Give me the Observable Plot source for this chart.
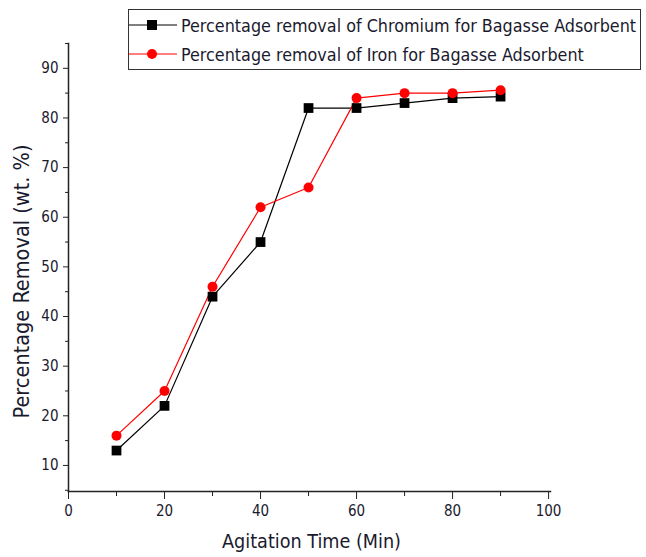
<!DOCTYPE html>
<html><head><meta charset="utf-8">
<script src="https://cdn.jsdelivr.net/npm/d3@7"></script>
<script src="https://cdn.jsdelivr.net/npm/@observablehq/plot@0.6"></script>
<style>
body{margin:0;background:#fff;}
#wrap{position:relative;width:646px;height:557px;font-family:"DejaVu Sans Condensed","Liberation Sans Narrow","Liberation Sans",Arial,sans-serif;}
#legend{position:absolute;left:128px;top:9px;width:511px;height:59px;border:1.5px solid #333;box-sizing:content-box;}
.row{position:absolute;left:0;height:20px;display:flex;align-items:center;font-size:17.8px;color:#1a1a2e;white-space:nowrap;}
.row svg{margin-right:4px;flex:none;}
</style></head>
<body><div id="wrap"><div id="chart"></div>
<div id="legend">
<div class="row" style="top:5px"><svg width="48" height="20"><line x1="0" y1="10" x2="48" y2="10" stroke="#000" stroke-width="1.2"/><rect x="18" y="5" width="10" height="10" fill="#000"/></svg><span>Percentage removal of Chromium for Bagasse Adsorbent</span></div>
<div class="row" style="top:34px"><svg width="48" height="20"><line x1="0" y1="10" x2="48" y2="10" stroke="#f00" stroke-width="1.2"/><circle cx="23" cy="10" r="5" fill="#f00"/></svg><span>Percentage removal of Iron for Bagasse Adsorbent</span></div>
</div></div>
<script>
const times = [10, 20, 30, 40, 50, 60, 70, 80, 90];
const chromium = [13, 22, 44, 55, 82, 82, 83, 84, 84.3];
const iron = [16, 25, 46, 62, 66, 84, 85, 85, 85.6];
const xTicks = [0, 20, 40, 60, 80, 100];
const xMinor = [10, 30, 50, 70, 90];
const yTicks = [10, 20, 30, 40, 50, 60, 70, 80, 90];
const yMinor = [5, 15, 25, 35, 45, 55, 65, 75, 85, 95];

const cr = times.map((t, i) => ({t, v: chromium[i]}));
const fe = times.map((t, i) => ({t, v: iron[i]}));
const font = '"DejaVu Sans Condensed","Liberation Sans Narrow","Liberation Sans",Arial,sans-serif';

const chart = Plot.plot({
  width: 646, height: 557,
  marginLeft: 68, marginRight: 96, marginTop: 43, marginBottom: 66,
  style: {fontFamily: font, fontSize: "15px", color: "#1a1a2e", background: "#fff"},
  x: {domain: [0, 100.4]},
  y: {domain: [4.75, 95]},
  marks: [
    Plot.axisX({ticks: xTicks, tickSize: 8, tickPadding: 6, label: null, fontSize: 15, stroke: "#222"}),
    Plot.axisX({ticks: xMinor, tickSize: 5, text: null, label: null, stroke: "#222"}),
    Plot.axisY({ticks: yTicks, tickSize: 5, tickPadding: 5, label: null, fontSize: 15, stroke: "#222"}),
    Plot.axisY({ticks: yMinor, tickSize: 3, text: null, label: null, stroke: "#222"}),
    Plot.frame({anchor: "left", stroke: "#222", strokeWidth: 1.5}),
    Plot.frame({anchor: "bottom", stroke: "#222", strokeWidth: 1.5}),
    Plot.line(cr, {x: "t", y: "v", stroke: "#000", strokeWidth: 1.2}),
    Plot.line(fe, {x: "t", y: "v", stroke: "#f00", strokeWidth: 1.2}),
    Plot.dot(cr, {x: "t", y: "v", symbol: "square", r: 5.5, fill: "#000"}),
    Plot.dot(fe, {x: "t", y: "v", symbol: "circle", r: 5, fill: "#f00"}),
    Plot.text(["Agitation Time (Min)"], {frameAnchor: "bottom", dx: 2, dy: 56, fontSize: 19.6, fill: "#1a1a2e"}),
    Plot.text(["Percentage Removal (wt. %)"], {frameAnchor: "left", textAnchor: "middle", dx: -46, dy: 14, rotate: -90, fontSize: 21.5, fill: "#1a1a2e", letterSpacing: "0.5px"})
  ]
});
document.getElementById("chart").appendChild(chart);
</script></body></html>
